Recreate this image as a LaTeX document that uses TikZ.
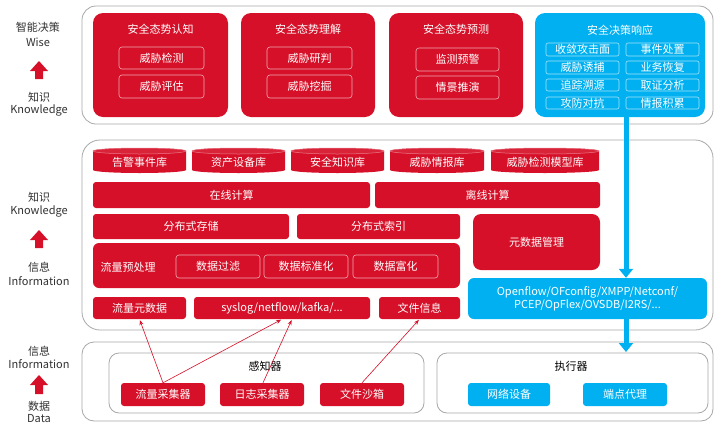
\documentclass[tikz,border=0pt]{standalone}
\usepackage{fontspec}
\setmainfont{Noto Sans CJK SC}
\usetikzlibrary{arrows.meta}
\definecolor{myred}{RGB}{214,16,40}
\definecolor{myblue}{RGB}{0,176,240}
\definecolor{pgray}{RGB}{168,168,168}
\definecolor{lbl}{RGB}{50,50,50}
\newcommand\bx[7]{\pgfmathsetmacro\bxw{#5-#3}\pgfmathsetmacro\bxh{#6-#4}%
\node[#1,minimum width=\bxw pt,minimum height=\bxh pt,inner sep=0pt] (#2) at ({(#3+#5)/2},{(#4+#6)/2}) {#7};}
\newcommand\cylbox[6]{\pgfmathsetmacro\cyrx{(#3-#2)/2}%
\fill[myred] (#2,#5-3) arc[start angle=180,end angle=360,x radius=\cyrx pt,y radius=3pt] -- (#3,#4+3) arc[start angle=0,end angle=180,x radius=\cyrx pt,y radius=3pt] -- cycle;
\draw[myred!55!white,line width=0.5pt,fill=myred!92!white] ({(#2+#3)/2},#4+3) ellipse[x radius=\cyrx pt,y radius=3pt];
\node[txt,text=white] (#1) at ({(#2+#3)/2},{(#4+#5)/2+1.5}) {#6};}
\newcommand\uparr[3]{\fill[myred] (#1-4,#3) -- (#1+4,#3) -- (#1+4,#2+10) -- (#1+9,#2+10) -- (#1,#2) -- (#1-9,#2+10) -- (#1-4,#2+10) -- cycle;}
\tikzset{
  txt/.style={font=\fontsize{11}{13}\selectfont,inner sep=0pt},
  panel/.style={draw=pgray,line width=0.8pt,rounded corners=#1},
  panel/.default=12pt,
  rbig/.style={fill=myred,rounded corners=10pt},
  rbox/.style={fill=myred,rounded corners=3pt,text=white,txt},
  bbox/.style={fill=myblue,rounded corners=3pt,text=white,txt},
  rsub/.style={draw=myred!35!white,line width=0.6pt,rounded corners=3pt,text=white,txt},
  bsub/.style={draw=myblue!35!white,line width=0.6pt,rounded corners=2pt,text=white,txt},
  ttl/.style={txt,text=white},
  side/.style={txt,text=lbl},
  thin/.style={myred,line width=0.6pt,-{Stealth[length=5pt,width=4pt]},shorten >=1pt},
  fat/.style={myblue,line width=5pt,-{Triangle[length=9pt,width=14pt]}}
}
\begin{document}
\begin{tikzpicture}[x=1pt,y=-1pt]
\useasboundingbox (0,0) rectangle (721,429);
\fill[white] (0,0) rectangle (721,429);
% panels
\draw[panel=14pt] (82,6) rectangle (713,124);
\draw[panel=18pt] (82,140) rectangle (713,330);
\draw[panel=12pt] (82,342) rectangle (713,421);
\draw[panel=10pt] (109,353) rectangle (424,413);
\draw[panel=10pt] (437,353) rectangle (708,413);
% side labels
\node[side] (w1) at (38,27) {智能决策};
\node[side] (w2) at (38,42) {Wise};
\uparr{39}{61}{79}
\node[side] (k1) at (39,97) {知识};
\node[side] (k2) at (39,110) {Knowledge};
\node[side] (k3) at (39,197) {知识};
\node[side] (k4) at (39,211) {Knowledge};
\uparr{39}{230}{248}
\node[side] (i1) at (39,267) {信息};
\node[side] (i2) at (39,281) {Information};
\node[side] (i3) at (39,351) {信息};
\node[side] (i4) at (39,364) {Information};
\uparr{39}{375}{394}
\node[side] (d1) at (39,406) {数据};
\node[side] (d2) at (39,419) {Data};
% top row
\bx{rbig}{b1}{93}{13}{228}{117}{}
\node[ttl] (t1) at (160.5,29) {安全态势认知};
\bx{rsub}{s11}{119}{47}{204}{69}{威胁检测}
\bx{rsub}{s12}{119}{75}{204}{98}{威胁评估}
\bx{rbig}{b2}{241}{13}{375}{117}{}
\node[ttl] (t2) at (308,29) {安全态势理解};
\bx{rsub}{s21}{267}{47}{352}{69}{威胁研判}
\bx{rsub}{s22}{267}{75}{352}{98}{威胁挖掘}
\bx{rbig}{b3}{389}{13}{523}{117}{}
\node[ttl] (t3) at (456,29) {安全态势预测};
\bx{rsub}{s31}{416}{48}{499}{71}{监测预警}
\bx{rsub}{s32}{416}{76}{499}{99}{情景推演}
\bx{rbig,fill=myblue}{b4}{535}{13}{705}{117}{}
\node[ttl] (t4) at (620,30) {安全决策响应};
\bx{bsub}{q1}{546}{43}{619}{56}{收敛攻击面}
\bx{bsub}{q2}{626}{43}{699}{56}{事件处置}
\bx{bsub}{q3}{546}{61}{619}{74}{威胁诱捕}
\bx{bsub}{q4}{626}{61}{699}{74}{业务恢复}
\bx{bsub}{q5}{546}{79}{619}{91}{追踪溯源}
\bx{bsub}{q6}{626}{79}{699}{91}{取证分析}
\bx{bsub}{q7}{546}{97}{619}{109}{攻防对抗}
\bx{bsub}{q8}{626}{97}{699}{109}{情报积累}
% middle
\cylbox{c1}{93}{186}{148}{173}{告警事件库}
\cylbox{c2}{192}{285}{148}{173}{资产设备库}
\cylbox{c3}{291}{384}{148}{173}{安全知识库}
\cylbox{c4}{390}{484}{148}{173}{威胁情报库}
\cylbox{c5}{491}{599}{148}{173}{威胁检测模型库}
\bx{rbox}{on}{93}{182}{370}{208}{在线计算}
\bx{rbox}{off}{375}{182}{600}{208}{离线计算}
\bx{rbox}{st}{93}{214}{289}{239}{分布式存储}
\bx{rbox}{ix}{297}{214}{460}{239}{分布式索引}
\bx{rbox,rounded corners=8pt}{meta}{473}{214}{600}{270}{元数据管理}
\bx{rbox,rounded corners=6pt}{pre}{93}{243}{460}{288}{}
\node[ttl] (pt) at (128,267) {流量预处理};
\bx{rsub}{p1}{176}{255}{260}{278}{数据过滤}
\bx{rsub}{p2}{264}{255}{348}{278}{数据标准化}
\bx{rsub}{p3}{353}{255}{438}{278}{数据富化}
\bx{rbox}{m1}{93}{297}{186}{319}{流量元数据}
\bx{rbox}{m2}{194}{297}{370}{319}{syslog/netflow/kafka/...}
\bx{rbox}{m3}{379}{297}{460}{319}{文件信息}
\bx{bbox,rounded corners=6pt,align=center}{bar}{468}{278}{707}{319}{Openflow/OFconfig/XMPP/Netconf/\\PCEP/OpFlex/OVSDB/I2RS/...}
% bottom
\node[txt] (gz) at (265,366) {感知器};
\node[txt] (zx) at (571,366) {执行器};
\bx{rbox}{cj1}{121}{383}{205}{406}{流量采集器}
\bx{rbox}{cj2}{220}{383}{304}{406}{日志采集器}
\bx{rbox}{cj3}{320}{383}{404}{406}{文件沙箱}
\bx{bbox}{z1}{468}{383}{550}{406}{网络设备}
\bx{bbox}{z2}{583}{383}{667}{406}{端点代理}
% connectors
\draw[thin] (cj1.north) -- (m1.south);
\draw[thin] (cj1.north) -- (m2.south);
\draw[thin] ([xshift=1pt]cj2.north) -- ([xshift=10pt]m2.south);
\draw[thin] (cj3.north) -- (m3.south);
\coordinate (ax) at (626,0);
\draw[fat] (ax |- b4.south) -- (ax |- bar.north);
\draw[fat] (ax |- bar.south) -- ([yshift=1pt]ax |- 0,353);
\end{tikzpicture}
\end{document}
